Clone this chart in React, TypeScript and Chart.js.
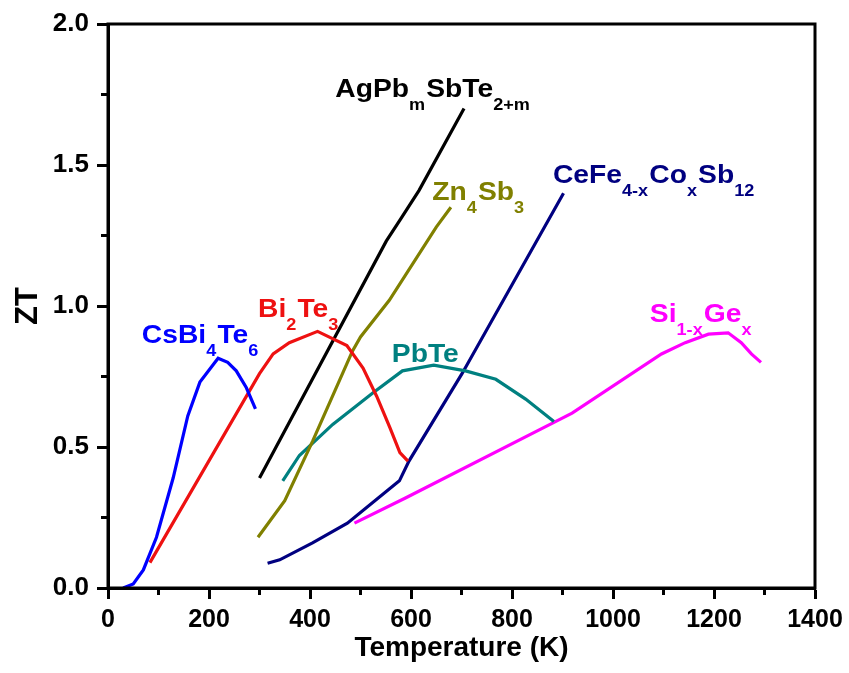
import React, { useEffect, useRef } from "react";
import { Chart, registerables } from "chart.js";
Chart.register(...registerables);

// ---- data (Temperature in K, ZT) ----
const csBiTeT = [30, 50, 70, 96, 129, 158, 182, 218, 237, 254, 274, 292];
const csBiTeZT = [0, 0.014, 0.064, 0.18, 0.39, 0.61, 0.73, 0.815, 0.8, 0.77, 0.71, 0.635];

const biTeT = [83, 300, 327, 359, 415, 473, 505, 532, 558, 578, 594];
const biTeZT = [0.09, 0.76, 0.83, 0.87, 0.91, 0.86, 0.78, 0.68, 0.57, 0.48, 0.45];

const agPbT = [300, 551, 580, 616, 705];
const agPbZT = [0.39, 1.23, 1.31, 1.41, 1.7];

const znSbT = [297, 350, 405, 484, 500, 557, 650, 679];
const znSbZT = [0.18, 0.31, 0.52, 0.84, 0.89, 1.02, 1.28, 1.35];

const pbTeT = [346, 379, 445, 523, 583, 645, 708, 768, 827, 883];
const pbTeZT = [0.38, 0.47, 0.58, 0.69, 0.77, 0.79, 0.77, 0.74, 0.67, 0.59];

const ceFeT = [316, 340, 405, 474, 577, 596, 701, 902];
const ceFeZT = [0.088, 0.1, 0.16, 0.23, 0.38, 0.45, 0.76, 1.4];

const siGeT = [488, 590, 886, 919, 1096, 1143, 1189, 1228, 1254, 1274, 1293];
const siGeZT = [0.23, 0.32, 0.59, 0.62, 0.83, 0.87, 0.9, 0.905, 0.87, 0.83, 0.8];

const seriesNames = ["CsBi4Te6", "Bi2Te3", "AgPbmSbTe2+m", "Zn4Sb3", "PbTe", "CeFe4-xCoxSb12", "Si1-xGex"];
const seriesColors = ["#0000ff", "#ee1111", "#000000", "#808000", "#008080", "#000080", "#ff00ff"];
const seriesT = [csBiTeT, biTeT, agPbT, znSbT, pbTeT, ceFeT, siGeT];
const seriesZT = [csBiTeZT, biTeZT, agPbZT, znSbZT, pbTeZT, ceFeZT, siGeZT];

// label text segments: [text, isSubscript]
const labelSegments: [string, boolean][][] = [
  [["CsBi", false], ["4", true], ["Te", false], ["6", true]],
  [["Bi", false], ["2", true], ["Te", false], ["3", true]],
  [["AgPb", false], ["m", true], ["SbTe", false], ["2+m", true]],
  [["Zn", false], ["4", true], ["Sb", false], ["3", true]],
  [["PbTe", false]],
  [["CeFe", false], ["4-x", true], ["Co", false], ["x", true], ["Sb", false], ["12", true]],
  [["Si", false], ["1-x", true], ["Ge", false], ["x", true]],
];
// label anchors in data units (T, ZT) of left baseline
const labelT = [67, 297, 450, 642, 562, 881, 1073];
const labelZT = [0.869, 0.961, 1.741, 1.376, 0.801, 1.436, 0.943];

const xTicksMax = 1400;
const yTicksMax = 2.0;

const FONT = "Arial, 'Liberation Sans', Helvetica, sans-serif";

const framePlugin = {
  id: "frame",
  afterDraw(chart: any) {
    const { ctx, chartArea } = chart;
    const xs = chart.scales.x;
    const ys = chart.scales.y;
    ctx.save();
    ctx.strokeStyle = "#000";
    ctx.lineWidth = 3;
    ctx.lineCap = "butt";
    ctx.strokeRect(chartArea.left, chartArea.top, chartArea.right - chartArea.left, chartArea.bottom - chartArea.top);
    // minor ticks
    for (let v = 100; v < xTicksMax; v += 200) {
      const px = xs.getPixelForValue(v);
      ctx.beginPath();
      ctx.moveTo(px, chartArea.bottom);
      ctx.lineTo(px, chartArea.bottom + 7);
      ctx.stroke();
    }
    for (let v = 0.25; v < yTicksMax; v += 0.5) {
      const py = ys.getPixelForValue(v);
      ctx.beginPath();
      ctx.moveTo(chartArea.left - 7, py);
      ctx.lineTo(chartArea.left, py);
      ctx.stroke();
    }
    ctx.restore();
  },
  afterDatasetsDraw(chart: any) {
    const { ctx } = chart;
    const xs = chart.scales.x;
    const ys = chart.scales.y;
    ctx.save();
    ctx.textBaseline = "alphabetic";
    ctx.textAlign = "left";
    labelSegments.forEach((segs, i) => {
      const x0 = xs.getPixelForValue(labelT[i]);
      const y0 = ys.getPixelForValue(labelZT[i]);
      ctx.save();
      ctx.translate(x0, y0);
      ctx.scale(1.13, 1);
      ctx.fillStyle = seriesColors[i];
      let x = 0;
      segs.forEach(([t, sub]) => {
        ctx.font = sub ? `bold 16px ${FONT}` : `bold 25px ${FONT}`;
        ctx.fillText(t, x, sub ? 13 : 0);
        x += ctx.measureText(t).width + (sub ? 1 : 0);
      });
      ctx.restore();
    });
    ctx.restore();
  },
};

export default function App() {
  const ref = useRef<HTMLCanvasElement | null>(null);
  useEffect(() => {
    if (!ref.current) return;
    const datasets = seriesNames.map((name, i) => ({
      label: name,
      data: seriesT[i].map((t, j) => ({ x: t, y: seriesZT[i][j] })),
      borderColor: seriesColors[i],
      backgroundColor: seriesColors[i],
      borderWidth: 3.2,
      pointRadius: 0,
      tension: 0,
      fill: false,
      showLine: true,
    }));
    const chart = new Chart(ref.current, {
      type: "scatter",
      data: { datasets },
      options: {
        animation: false,
        responsive: false,
        maintainAspectRatio: false,
        layout: { padding: { top: 24, right: 34, left: 0, bottom: 0 } },
        plugins: { legend: { display: false }, tooltip: { enabled: false } },
        scales: {
          x: {
            type: "linear",
            min: 0,
            max: xTicksMax,
            afterFit(scale: any) {
              scale.height = 85;
            },
            ticks: {
              stepSize: 200,
              color: "#000",
              padding: 6,
              font: { family: FONT, size: 25, weight: "bold" },
              maxRotation: 0,
              callback: (v: any) => String(v),
            },
            grid: {
              display: true,
              drawOnChartArea: false,
              drawTicks: true,
              tickLength: 11,
              tickWidth: 3,
              tickColor: "#000",
            },
            border: { display: true, width: 3, color: "#000" },
            title: {
              display: true,
              text: "Temperature (K)",
              color: "#000",
              font: { family: FONT, size: 28, weight: "bold" },
              padding: { top: 0, bottom: 8 },
            },
          },
          y: {
            type: "linear",
            min: 0,
            max: yTicksMax,
            afterFit(scale: any) {
              scale.width = 108;
            },
            ticks: {
              stepSize: 0.5,
              color: "#000",
              padding: 8,
              font: { family: FONT, size: 26, weight: "bold" },
              callback: (v: any) => Number(v).toFixed(1),
            },
            grid: {
              display: true,
              drawOnChartArea: false,
              drawTicks: true,
              tickLength: 11,
              tickWidth: 3,
              tickColor: "#000",
            },
            border: { display: true, width: 3, color: "#000" },
            title: {
              display: true,
              text: "ZT",
              color: "#000",
              font: { family: FONT, size: 31, weight: "bold" },
              padding: { top: 10, bottom: 0 },
            },
          },
        },
      },
      plugins: [framePlugin],
    });
    return () => chart.destroy();
  }, []);
  return (
    <div style={{ position: "absolute", left: 0, top: 0, width: 849, height: 673, background: "#fff" }}>
      <canvas ref={ref} width={849} height={673} style={{ display: "block", width: 849, height: 673 }} />
    </div>
  );
}
